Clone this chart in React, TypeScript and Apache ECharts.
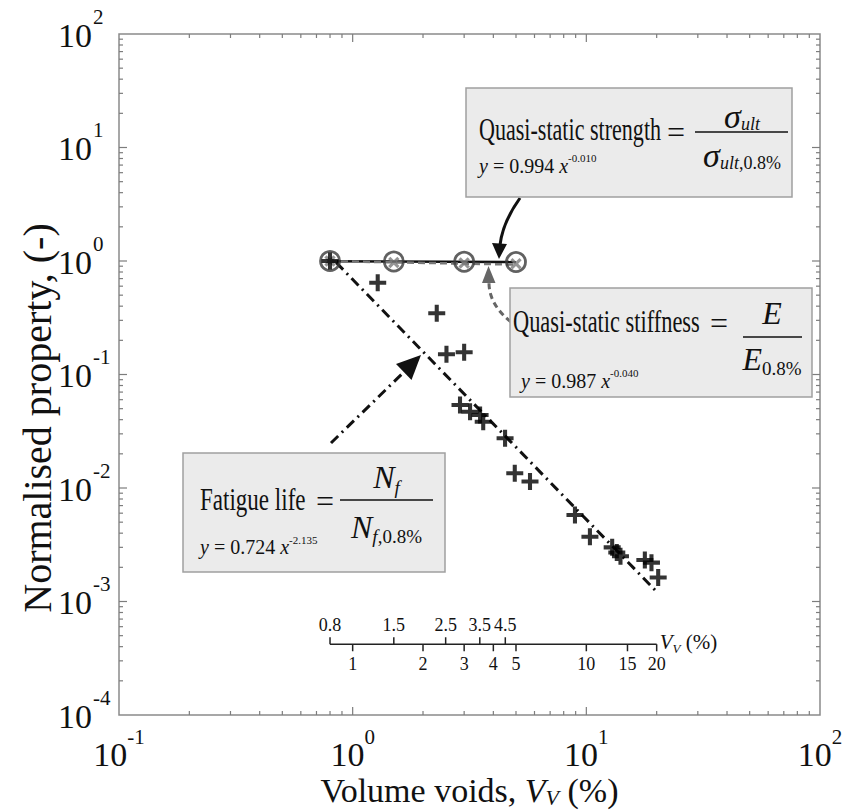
import React, { useEffect, useRef } from "react";
import * as echarts from "echarts";

// ---------------- data ----------------
const fatigueVoids = [0.8, 1.28, 2.29, 2.52, 3.0, 2.88, 3.18, 3.51, 3.62, 4.49, 4.94, 5.74, 8.94, 10.36, 12.9, 13.5, 14.0, 17.8, 19.0, 20.3];
const fatigueLife = [1.0, 0.644, 0.346, 0.151, 0.157, 0.0538, 0.047, 0.044, 0.0384, 0.0274, 0.0135, 0.0114, 0.00578, 0.00372, 0.003, 0.0027, 0.0025, 0.00232, 0.0022, 0.00163];

const strengthVoids = [0.8, 1.5, 3, 5];
const strengthValues = [1.0, 0.99, 0.985, 0.98];
const stiffnessVoids = [0.8, 1.5, 3, 5];
const stiffnessValues = [1.0, 0.97, 0.96, 0.945];

const strengthFitX = [0.8, 5];
const strengthFitY = [0.996, 0.978];
const stiffnessFitX = [0.8, 5];
const stiffnessFitY = [0.996, 0.93];
const fatigueFitX = [0.85, 19.7];
const fatigueFitY = [0.97, 0.00126];

const xDecades = [0.1, 1, 10, 100];
const xDecadeExp = ["-1", "0", "1", "2"];
const yDecades = [1e-4, 1e-3, 1e-2, 1e-1, 1, 10, 100];
const yDecadeExp = ["-4", "-3", "-2", "-1", "0", "1", "2"];
const minorSteps = [2, 3, 4, 5, 6, 7, 8, 9];

const insetTopTicks = [0.8, 1.5, 2.5, 3.5, 4.5];
const insetBottomTicks = [1, 2, 3, 4, 5, 10, 15, 20];
const insetLevel = 4.2e-4;

// ---------------- helpers ----------------
const FONT = '"Liberation Serif", "Times New Roman", serif';
const INK = "#111111";
const PLUS = "path://M3.8,0H6.2V3.8H10V6.2H6.2V10H3.8V6.2H0V3.8H3.8Z";

let measureCtx: CanvasRenderingContext2D | null = null;
function textWidth(text: string, size: number, italic = false): number {
  if (!measureCtx) measureCtx = document.createElement("canvas").getContext("2d");
  measureCtx!.font = `${italic ? "italic " : ""}${size}px ${FONT}`;
  return measureCtx!.measureText(text).width;
}

type Tok = { t: string; s: number; i?: boolean; dy?: number; c?: string };

function run(
  x: number,
  y: number,
  toks: Tok[],
  opts: { scaleX?: number; align?: "left" | "center" | "right"; color?: string; z?: number } = {}
): any[] {
  const sx = opts.scaleX ?? 1;
  const widths = toks.map((k) => textWidth(k.t, k.s, k.i) * sx);
  const total = widths.reduce((a, b) => a + b, 0);
  let cx = opts.align === "center" ? x - total / 2 : opts.align === "right" ? x - total : x;
  const out: any[] = [];
  toks.forEach((k, idx) => {
    const el: any = {
      type: "text",
      x: cx,
      y: y + (k.dy ?? 0),
      scaleX: sx,
      style: {
        text: k.t,
        fontSize: k.s,
        fontFamily: FONT,
        fontStyle: k.i ? "italic" : "normal",
        fill: k.c ?? opts.color ?? INK,
        align: "left",
        textAlign: "left",
        verticalAlign: "middle",
        textVerticalAlign: "middle",
      },
    };
    if (opts.z !== undefined) el.z = opts.z;
    out.push(el);
    cx += widths[idx];
  });
  return out;
}

const zip = (xs: number[], ys: number[]) => xs.map((x, i) => [x, ys[i]]);

// ---------------- axes drawn through the chart's scales ----------------
function renderAxes(params: any, api: any) {
  if (params.dataIndex !== 0) return null;
  const ch: any[] = [];
  const [xl, yb] = api.coord([0.1, 1e-4]);
  const [xr, yt] = api.coord([100, 100]);
  const tc = "#7d7d7d";
  const seg = (x1: number, y1: number, x2: number, y2: number, stroke = tc, lw = 1.2) =>
    ch.push({ type: "line", shape: { x1, y1, x2, y2 }, style: { stroke, lineWidth: lw } });

  xDecades.forEach((d, i) => {
    const px = api.coord([d, 1])[0];
    if (i > 0 && i < xDecades.length - 1) {
      seg(px, yb, px, yb - 8);
      seg(px, yt, px, yt + 8);
    }
    if (i < xDecades.length - 1) {
      minorSteps.forEach((k) => {
        const mx = api.coord([d * k, 1])[0];
        seg(mx, yb, mx, yb - 4);
        seg(mx, yt, mx, yt + 4);
      });
    }
    const wb = textWidth("10", 34);
    const ws = textWidth(xDecadeExp[i], 21);
    const left = px - (wb + ws) / 2;
    ch.push(...run(left, yb + 39, [{ t: "10", s: 34 }]));
    ch.push(...run(left + wb, yb + 22, [{ t: xDecadeExp[i], s: 21 }]));
  });

  yDecades.forEach((d, i) => {
    const py = api.coord([1, d])[1];
    if (i > 0 && i < yDecades.length - 1) {
      seg(xl, py, xl + 8, py);
      seg(xr, py, xr - 8, py);
    }
    if (i < yDecades.length - 1) {
      minorSteps.forEach((k) => {
        const my = api.coord([1, d * k])[1];
        seg(xl, my, xl + 4, my);
        seg(xr, my, xr - 4, my);
      });
    }
    ch.push(...run(xl - 27, py + 1, [{ t: "10", s: 34 }], { align: "right" }));
    ch.push(...run(xl - 26, py - 17.5, [{ t: yDecadeExp[i], s: 21 }]));
  });

  // inset void-content scale
  const iy = api.coord([1, insetLevel])[1];
  const ix0 = api.coord([insetTopTicks[0], insetLevel])[0];
  const ix1 = api.coord([insetBottomTicks[insetBottomTicks.length - 1], insetLevel])[0];
  seg(ix0, iy, ix1, iy, "#222", 1.5);
  insetTopTicks.forEach((v) => {
    const px = api.coord([v, insetLevel])[0];
    seg(px, iy, px, iy - 7, "#222", 1.5);
    ch.push(...run(px, iy - 19, [{ t: String(v), s: 18 }], { align: "center" }));
  });
  insetBottomTicks.forEach((v) => {
    const px = api.coord([v, insetLevel])[0];
    seg(px, iy, px, iy + 7, "#222", 1.5);
    ch.push(...run(px, iy + 20, [{ t: String(v), s: 18 }], { align: "center" }));
  });
  ch.push(
    ...run(ix1 + 3, iy - 2, [
      { t: "V", s: 21, i: true },
      { t: "V", s: 13, i: true, dy: 6 },
      { t: " (%)", s: 21 },
    ])
  );

  return { type: "group", children: ch };
}

// ---------------- annotations (pixel layout) ----------------
function annotations(): any[] {
  const els: any[] = [];
  const box = (x: number, y: number, w: number, h: number) =>
    els.push({
      type: "rect",
      z: 10,
      shape: { x, y, width: w, height: h },
      style: { fill: "#ebebeb", stroke: "#a0a0a0", lineWidth: 1.5 },
    });
  const hline = (x1: number, x2: number, y: number) =>
    els.push({ type: "line", z: 11, shape: { x1, y1: y, x2, y2: y }, style: { stroke: INK, lineWidth: 1.5 } });

  // strength
  box(466, 88, 326, 109);
  els.push(...run(479, 130, [{ t: "Quasi-static strength", s: 32 }], { scaleX: 0.69, z: 11 }));
  els.push(...run(667, 132, [{ t: "=", s: 32 }], { z: 11 }));
  els.push(...run(742, 116, [{ t: "σ", s: 34, i: true }, { t: "ult", s: 18, i: true, dy: 8 }], { align: "center", z: 11 }));
  hline(695, 788, 132);
  els.push(
    ...run(742, 155, [
      { t: "σ", s: 34, i: true },
      { t: "ult", s: 18, i: true, dy: 8 },
      { t: ",0.8%", s: 18, dy: 8 },
    ], { align: "center", z: 11 })
  );
  els.push(
    ...run(479, 166, [
      { t: "y", s: 20, i: true },
      { t: " = 0.994 ", s: 20 },
      { t: "x", s: 20, i: true },
      { t: "-0.010", s: 11, dy: -8 },
    ], { z: 11 })
  );

  // stiffness
  box(510, 288, 302, 109);
  els.push(...run(513, 321, [{ t: "Quasi-static stiffness", s: 32 }], { scaleX: 0.7, z: 11 }));
  els.push(...run(710, 323, [{ t: "=", s: 32 }], { z: 11 }));
  els.push(...run(772, 313, [{ t: "E", s: 32, i: true }], { align: "center", z: 11 }));
  hline(743, 802, 337);
  els.push(
    ...run(772, 359, [
      { t: "E", s: 32, i: true },
      { t: "0.8%", s: 19, dy: 9 },
    ], { align: "center", z: 11 })
  );
  els.push(
    ...run(521, 381, [
      { t: "y", s: 20, i: true },
      { t: " = 0.987 ", s: 20 },
      { t: "x", s: 20, i: true },
      { t: "-0.040", s: 11, dy: -8 },
    ], { z: 11 })
  );

  // fatigue
  box(183, 453, 262, 119);
  els.push(...run(200, 499, [{ t: "Fatigue life", s: 32 }], { scaleX: 0.72, z: 11 }));
  els.push(...run(316, 501, [{ t: "=", s: 32 }], { z: 11 }));
  els.push(
    ...run(386.5, 477, [
      { t: "N", s: 32, i: true },
      { t: "f", s: 19, i: true, dy: 10 },
    ], { align: "center", z: 11 })
  );
  hline(340, 433, 500);
  els.push(
    ...run(386.5, 527, [
      { t: "N", s: 32, i: true },
      { t: "f", s: 19, i: true, dy: 9 },
      { t: ",0.8%", s: 19, dy: 9 },
    ], { align: "center", z: 11 })
  );
  els.push(
    ...run(200, 547, [
      { t: "y", s: 20, i: true },
      { t: " = 0.724 ", s: 20 },
      { t: "x", s: 20, i: true },
      { t: "-2.135", s: 11, dy: -7 },
    ], { z: 11 })
  );

  // arrows
  els.push({
    type: "bezierCurve",
    z: 9,
    shape: { x1: 520, y1: 198, cpx1: 510, cpy1: 212, cpx2: 502, cpy2: 228, x2: 500, y2: 245 },
    style: { stroke: "#111", lineWidth: 3, fill: "none" },
  });
  els.push({ type: "polygon", z: 9, shape: { points: [[499, 259], [492, 243], [507, 244]] }, style: { fill: "#111" } });

  els.push({
    type: "bezierCurve",
    z: 9,
    shape: { x1: 511, y1: 322, cpx1: 496, cpy1: 310, cpx2: 489, cpy2: 297, x2: 489, y2: 283 },
    style: { stroke: "#666", lineWidth: 3, fill: "none", lineDash: [6, 4] },
  });
  els.push({ type: "polygon", z: 9, shape: { points: [[488.5, 266], [482, 283], [495.5, 283]] }, style: { fill: "#666" } });

  els.push({
    type: "line",
    z: 9,
    shape: { x1: 331, y1: 443, x2: 404, y2: 372 },
    style: { stroke: "#111", lineWidth: 3, lineDash: [10, 5, 2, 5] },
  });
  els.push({ type: "polygon", z: 9, shape: { points: [[421, 355], [396, 364], [411.5, 380]] }, style: { fill: "#111" } });

  // axis titles
  els.push(
    ...run(469.5, 790, [
      { t: "Volume voids, ", s: 34 },
      { t: "V", s: 34, i: true },
      { t: "V", s: 22, i: true, dy: 7 },
      { t: " (%)", s: 34 },
    ], { align: "center", z: 11 })
  );
  els.push({
    type: "text",
    z: 11,
    x: 37,
    y: 418,
    rotation: Math.PI / 2,
    style: {
      text: "Normalised property, (-)",
      fontSize: 40,
      fontFamily: FONT,
      fill: INK,
      align: "center",
      textAlign: "center",
      verticalAlign: "middle",
      textVerticalAlign: "middle",
    },
  });
  return els;
}

function buildOption(): any {
  return {
    animation: false,
    backgroundColor: "#ffffff",
    grid: {
      left: 119,
      right: 25,
      top: 34,
      bottom: 96,
      show: true,
      borderColor: "#8a8a8a",
      borderWidth: 1.5,
      backgroundColor: "transparent",
    },
    xAxis: {
      type: "log",
      logBase: 10,
      min: 0.1,
      max: 100,
      axisLine: { show: false },
      axisTick: { show: false },
      axisLabel: { show: false },
      splitLine: { show: false },
    },
    yAxis: {
      type: "log",
      logBase: 10,
      min: 0.0001,
      max: 100,
      axisLine: { show: false },
      axisTick: { show: false },
      axisLabel: { show: false },
      splitLine: { show: false },
    },
    graphic: { elements: annotations() },
    series: [
      {
        name: "Fatigue fit",
        type: "line",
        data: zip(fatigueFitX, fatigueFitY),
        symbol: "none",
        lineStyle: { color: "#111", width: 3, type: [10, 5, 2, 5] },
        z: 2,
      },
      {
        name: "Strength fit",
        type: "line",
        data: zip(strengthFitX, strengthFitY),
        symbol: "none",
        lineStyle: { color: "#111", width: 2.5 },
        z: 3,
      },
      {
        name: "Stiffness fit",
        type: "line",
        data: zip(stiffnessFitX, stiffnessFitY),
        symbol: "none",
        lineStyle: { color: "#777", width: 2.5, type: [7, 4] },
        z: 4,
      },
      {
        name: "Quasi-static strength",
        type: "scatter",
        data: zip(strengthVoids, strengthValues),
        symbol: "circle",
        symbolSize: 19,
        itemStyle: { color: "rgba(0,0,0,0)", borderColor: "#3a3a3a", borderWidth: 2.8 },
        z: 5,
      },
      {
        name: "Quasi-static stiffness",
        type: "scatter",
        data: zip(stiffnessVoids, stiffnessValues),
        symbol: PLUS,
        symbolRotate: 45,
        symbolSize: 13,
        itemStyle: { color: "#7a7a7a" },
        z: 6,
      },
      {
        name: "Fatigue life",
        type: "scatter",
        data: zip(fatigueVoids, fatigueLife),
        symbol: PLUS,
        symbolSize: 17,
        itemStyle: { color: "#000" },
        z: 7,
      },
      {
        name: "axes",
        type: "custom",
        coordinateSystem: "cartesian2d",
        data: [[1, 1]],
        encode: { x: 0, y: 1 },
        renderItem: renderAxes,
        silent: true,
        clip: false,
        z: 8,
      },
    ],
  };
}

export default function App() {
  const ref = useRef<HTMLDivElement>(null);
  useEffect(() => {
    const chart = echarts.init(ref.current!, undefined, { renderer: "svg" });
    chart.setOption(buildOption());
    return () => chart.dispose();
  }, []);
  return (
    <div
      ref={ref}
      style={{ position: "fixed", left: 0, top: 0, width: 845, height: 811, background: "#fff" }}
    />
  );
}
